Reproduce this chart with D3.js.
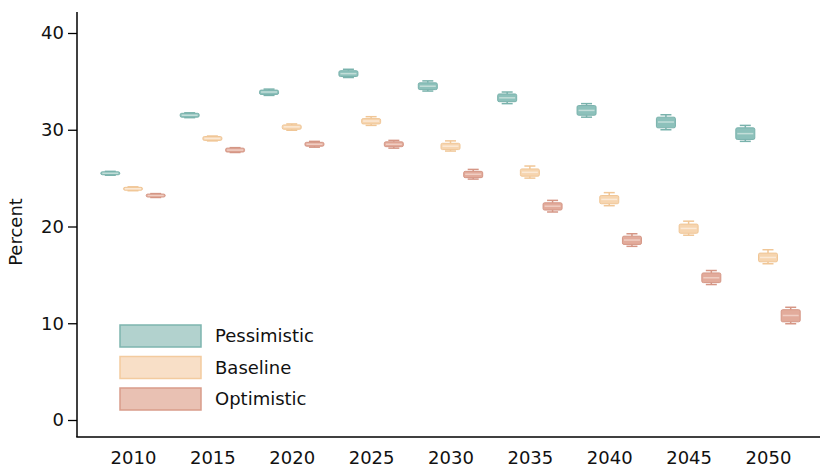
<!DOCTYPE html>
<html><head><meta charset="utf-8">
<script src="https://cdn.jsdelivr.net/npm/d3@7"></script>
<style>body{margin:0;background:#fff}svg{display:block}text{font-family:"DejaVu Sans",sans-serif}</style>
</head><body><svg id="c" width="822" height="471"></svg>
<script>
const years = ["2010","2015","2020","2025","2030","2035","2040","2045","2050"];
const seriesNames = ["Pessimistic","Baseline","Optimistic"];
const yTicks = [0,10,20,30,40];
// per-series statistics: [lo, q1, median, q3, hi] for each year
const pessimistic = [
 [25.3,25.35,25.5,25.65,25.7],[31.25,31.3,31.5,31.7,31.75],[33.55,33.65,33.9,34.1,34.2],
 [35.4,35.5,35.8,36.1,36.25],[34.0,34.15,34.5,34.85,35.05],[32.7,32.9,33.3,33.7,33.9],
 [31.3,31.5,32.0,32.5,32.7],[30.0,30.2,30.8,31.3,31.55],[28.8,29.0,29.6,30.2,30.45]];
const baseline = [
 [23.7,23.75,23.9,24.05,24.1],[28.85,28.9,29.1,29.3,29.35],[29.95,30.05,30.3,30.5,30.6],
 [30.45,30.6,30.9,31.15,31.35],[27.8,27.95,28.3,28.6,28.85],[25.0,25.2,25.6,25.95,26.25],
 [22.15,22.35,22.8,23.2,23.5],[19.1,19.3,19.8,20.25,20.55],[16.15,16.35,16.8,17.25,17.6]];
const optimistic = [
 [23.0,23.05,23.2,23.35,23.4],[27.65,27.7,27.9,28.1,28.15],[28.2,28.3,28.5,28.7,28.8],
 [28.1,28.25,28.5,28.75,28.9],[24.9,25.05,25.4,25.7,25.9],[21.5,21.7,22.1,22.45,22.7],
 [17.95,18.15,18.6,19.0,19.25],[14.0,14.2,14.7,15.2,15.45],[9.95,10.15,10.8,11.4,11.65]];

const seriesData = [pessimistic, baseline, optimistic];
const fills   = ["#8dc1bb","#f6d5b0","#e2ab9b"];
const strokeC = ["#79b2ac","#f0c696","#d59685"];
const medC    = ["#c3ded9","#fbe9d6","#f0cec3"];
const legFill = ["#b2d2ce","#f8dfc7","#e9c1b3"];
const legStroke = ["#7db5af","#f3cb9f","#d99c8a"];

const svg = d3.select("#c");
const y = d3.scaleLinear().domain([0,40]).range([420,33]);
const x = d3.scalePoint().domain(years).range([133,768]);
const off = d3.scalePoint().domain(seriesNames).range([-22.7,22.7]);
const bw = 19, cw = 11;

// boxes
seriesNames.forEach((s,si)=>{
  const g = svg.append("g");
  seriesData[si].forEach((d,i)=>{
    const cx = x(years[i]) + off(s);
    const [lo,q1,md,q3,hi] = d;
    const gg = g.append("g");
    gg.append("line").attr("x1",cx).attr("x2",cx).attr("y1",y(hi)).attr("y2",y(q3)).attr("stroke",strokeC[si]).attr("stroke-width",1.5);
    gg.append("line").attr("x1",cx).attr("x2",cx).attr("y1",y(q1)).attr("y2",y(lo)).attr("stroke",strokeC[si]).attr("stroke-width",1.5);
    gg.append("line").attr("x1",cx-cw/2).attr("x2",cx+cw/2).attr("y1",y(hi)).attr("y2",y(hi)).attr("stroke",strokeC[si]).attr("stroke-width",1.5);
    gg.append("line").attr("x1",cx-cw/2).attr("x2",cx+cw/2).attr("y1",y(lo)).attr("y2",y(lo)).attr("stroke",strokeC[si]).attr("stroke-width",1.5);
    gg.append("rect").attr("x",cx-bw/2).attr("width",bw).attr("y",y(q3)).attr("height",Math.max(1.5,y(q1)-y(q3)))
      .attr("rx",1.5).attr("fill",fills[si]).attr("stroke",strokeC[si]).attr("stroke-width",1);
    gg.append("line").attr("x1",cx-bw/2+1.5).attr("x2",cx+bw/2-1.5).attr("y1",y(md)).attr("y2",y(md)).attr("stroke",medC[si]).attr("stroke-width",1.5);
  });
});

// axes
svg.append("line").attr("x1",77).attr("x2",77).attr("y1",12).attr("y2",437).attr("stroke","#000").attr("stroke-width",1.5);
svg.append("line").attr("x1",76.25).attr("x2",820).attr("y1",437).attr("y2",437).attr("stroke","#000").attr("stroke-width",1.5);
const ya = svg.append("g").attr("transform","translate(77,0)")
  .call(d3.axisLeft(y).tickValues(yTicks).tickSize(9).tickPadding(4));
ya.select(".domain").remove();
ya.selectAll(".tick line").attr("stroke","#000").attr("stroke-width",1.3);
ya.selectAll(".tick text").attr("font-size",18).attr("fill","#111").style("font-family","DejaVu Sans");
const xa = svg.append("g").attr("transform","translate(0,437)")
  .call(d3.axisBottom(x).tickSize(0).tickPadding(14));
xa.select(".domain").remove();
xa.selectAll(".tick text").attr("font-size",18).attr("fill","#111").style("font-family","DejaVu Sans");

svg.append("text").attr("transform","translate(22,232) rotate(-90)").attr("text-anchor","middle")
  .attr("font-size",18).attr("fill","#111").text("Percent");

// legend
const leg = svg.append("g");
seriesNames.forEach((s,i)=>{
  const ly = 325 + i*31.5;
  leg.append("rect").attr("x",120).attr("y",ly).attr("width",81).attr("height",22)
    .attr("fill",legFill[i]).attr("stroke",legStroke[i]).attr("stroke-width",1.5);
  leg.append("text").attr("x",215).attr("y",ly+11).attr("dy","0.35em").attr("font-size",18).attr("fill","#111").text(s);
});
</script></body></html>
